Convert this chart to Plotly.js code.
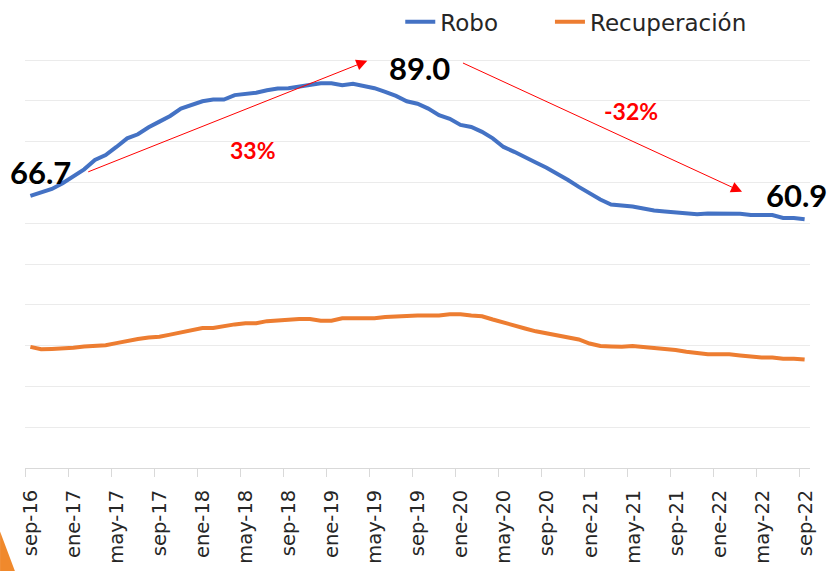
<!DOCTYPE html>
<html>
<head>
<meta charset="utf-8">
<script src="https://cdn.plot.ly/plotly-3.0.1.min.js"></script>
<style>html,body{margin:0;padding:0;background:#fff;}#chart{width:827px;height:571px;}</style>
</head>
<body>
<div id="chart"></div>
<script>
const months = [
  "sep-16","oct-16","nov-16","dic-16",
  "ene-17","feb-17","mar-17","abr-17","may-17","jun-17","jul-17","ago-17","sep-17","oct-17","nov-17","dic-17",
  "ene-18","feb-18","mar-18","abr-18","may-18","jun-18","jul-18","ago-18","sep-18","oct-18","nov-18","dic-18",
  "ene-19","feb-19","mar-19","abr-19","may-19","jun-19","jul-19","ago-19","sep-19","oct-19","nov-19","dic-19",
  "ene-20","feb-20","mar-20","abr-20","may-20","jun-20","jul-20","ago-20","sep-20","oct-20","nov-20","dic-20",
  "ene-21","feb-21","mar-21","abr-21","may-21","jun-21","jul-21","ago-21","sep-21","oct-21","nov-21","dic-21",
  "ene-22","feb-22","mar-22","abr-22","may-22","jun-22","jul-22","ago-22","sep-22"
];

const robo = [
  66.7, 67.5, 68.4, 69.8, 71.5, 73.2, 75.5, 76.7, 78.7, 80.8, 81.8, 83.5,
  84.9, 86.3, 88.1, 89.1, 89.9, 90.3, 90.3, 91.4, 91.7, 92.0, 92.6, 93.0,
  93.1, 93.5, 93.7, 94.3, 94.3, 93.8, 94.2, 93.6, 93.1, 92.2, 91.2, 89.9,
  89.3, 88.1, 86.5, 85.6, 84.1, 83.6, 82.4, 80.8, 78.7, 77.5, 76.3, 74.9,
  73.6, 72.2, 70.6, 68.9, 67.3, 65.8, 64.6, 64.4, 64.1, 63.6, 63.1, 62.9,
  62.6, 62.4, 62.2, 62.4, 62.4, 62.4, 62.3, 62.0, 62.0, 62.0, 61.3, 61.3, 61.0
];

const recuperacion = [
  29.7, 29.1, 29.2, 29.3, 29.5, 29.8, 30.0, 30.1, 30.6, 31.2, 31.6, 32.0,
  32.2, 32.7, 33.3, 33.8, 34.3, 34.3, 34.8, 35.2, 35.5, 35.5, 36.0, 36.2,
  36.2, 36.5, 36.5, 36.1, 36.1, 36.7, 36.7, 36.7, 36.7, 37.0, 37.2, 37.4,
  37.4, 37.4, 37.4, 37.7, 37.7, 37.4, 37.2, 36.4, 35.6, 35.0, 34.2, 33.5,
  33.0, 32.5, 32.1, 31.5, 30.5, 29.9, 29.8, 29.7, 29.9, 29.7, 29.4, 29.2,
  28.9, 28.5, 28.1, 27.9, 27.9, 27.9, 27.6, 27.3, 27.1, 27.1, 26.8, 26.8, 26.6
];

// labelled values shown on the chart
const labelStart = 66.7;
const labelPeak = 89.0;
const labelEnd = 60.9;

const xIdx = months.map((m, i) => i);
const tickStep = 4;
const tickVals = [];
const tickText = [];
for (let i = 0; i < months.length; i += tickStep) {
  tickVals.push(i - 0.5);
  tickText.push(months[i]);
}

const pctUp = Math.round((labelPeak / labelStart - 1) * 100);
const pctDown = Math.round((labelEnd / labelPeak - 1) * 100);

const traces = [
  { x: xIdx, y: robo, name: "Robo", type: "scatter", mode: "lines",
    line: { color: "#4472C4", width: 4 }, legend: "legend" },
  { x: xIdx, y: recuperacion, name: "Recuperación", type: "scatter", mode: "lines",
    line: { color: "#ED7D31", width: 4 }, legend: "legend2" }
];

const bigFont = { family: "Lato, sans-serif", size: 31, color: "#000000", weight: 700 };
const redFont = { family: "Lato, sans-serif", size: 23, color: "#FF0000", weight: 700 };
const legendFont = { family: "DejaVu Sans, sans-serif", size: 23, color: "#262626" };

const layout = {
  width: 827, height: 571,
  margin: { l: 25, r: 17, t: 58, b: 103 },
  paper_bgcolor: "#ffffff",
  plot_bgcolor: "#ffffff",
  showlegend: true,
  legend: {
    orientation: "h", xref: "container", yref: "container",
    x: 0.484, xanchor: "left", y: 0.962, yanchor: "middle",
    font: legendFont, itemwidth: 30, bgcolor: "rgba(0,0,0,0)"
  },
  legend2: {
    orientation: "h", xref: "container", yref: "container",
    x: 0.665, xanchor: "left", y: 0.962, yanchor: "middle",
    font: legendFont, itemwidth: 30, bgcolor: "rgba(0,0,0,0)"
  },
  xaxis: {
    type: "linear", range: [-0.5, 72.5],
    tickmode: "array", tickvals: tickVals, ticktext: tickText,
    tickangle: -90, ticks: "outside", ticklen: 8, tickcolor: "#d9d9d9", tickwidth: 1,
    ticklabelshift: 6, ticklabelstandoff: 5,
    showline: true, linecolor: "#d9d9d9", linewidth: 1,
    showgrid: false, zeroline: false, automargin: false,
    tickfont: { family: "DejaVu Sans, sans-serif", size: 19.5, color: "#262626" }
  },
  yaxis: {
    range: [0, 100.5], dtick: 10, tick0: 0,
    showticklabels: false, ticks: "",
    showgrid: true, gridcolor: "#ebebeb", gridwidth: 1,
    zeroline: false, showline: false, automargin: false
  },
  annotations: [
    { x: 0, y: robo[0], xref: "x", yref: "y", text: labelStart.toFixed(1), showarrow: false,
      xanchor: "left", yanchor: "middle", xshift: -22, yshift: 24, font: bigFont },
    { x: 36.2, y: 98, xref: "x", yref: "y", text: labelPeak.toFixed(1), showarrow: false,
      xanchor: "center", yanchor: "middle", font: bigFont },
    { x: 72, y: 66.8, xref: "x", yref: "y", text: labelEnd.toFixed(1), showarrow: false,
      xanchor: "right", yanchor: "middle", xshift: 24, font: bigFont },
    { x: 20.7, y: 77.9, xref: "x", yref: "y", text: pctUp + "%", showarrow: false,
      xanchor: "center", yanchor: "middle", font: redFont },
    { x: 55.9, y: 87.5, xref: "x", yref: "y", text: pctDown + "%", showarrow: false,
      xanchor: "center", yanchor: "middle", font: redFont },
    { x: 31.33, y: 99.8, ax: 5.24, ay: 72.45, xref: "x", yref: "y", axref: "x", ayref: "y",
      text: "", showarrow: true, arrowhead: 2, arrowsize: 2.2, arrowwidth: 1, arrowcolor: "#FF0000", standoff: 0 },
    { x: 66.18, y: 67.7, ax: 40.09, ay: 99.44, xref: "x", yref: "y", axref: "x", ayref: "y",
      text: "", showarrow: true, arrowhead: 2, arrowsize: 2.2, arrowwidth: 1, arrowcolor: "#FF0000", standoff: 0 }
  ],
  shapes: [
    { type: "path", xref: "paper", yref: "paper", layer: "above",
      path: "M -0.0318 -0.155 L -0.0125 -0.2534 L -0.0318 -0.2534 Z",
      fillcolor: "#F0892C", line: { width: 0 } }
  ]
};

Plotly.newPlot("chart", traces, layout, { displayModeBar: false, staticPlot: true });
</script>
</body>
</html>
